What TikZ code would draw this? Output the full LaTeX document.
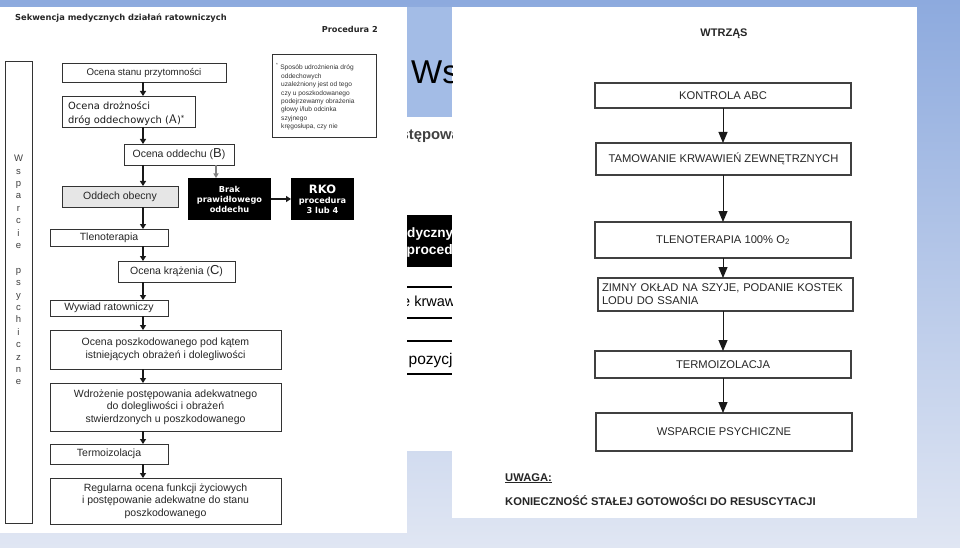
\documentclass[tikz,border=0pt]{standalone}
\usepackage{fontspec}
\setmainfont{Liberation Sans}
\newfontfamily\dejavu{DejaVu Sans}
\usetikzlibrary{arrows.meta}
\definecolor{bgtop}{RGB}{141,170,222}
\definecolor{bgbot}{RGB}{224,230,243}
\definecolor{midblue}{RGB}{163,188,230}
\definecolor{lightgray}{RGB}{230,230,230}
\newcommand\boxat[7]{%
  \node[#6, minimum width={(#4-#2)*1pt}, minimum height={(#5-#3)*1pt}] (#1) at ({(#2+#4)/2},{(#3+#5)/2}) {#7};}
\begin{document}
\begin{tikzpicture}[x=1pt,y=-1pt,
  lbox/.style={draw=black!80, line width=0.9pt, inner sep=0pt, outer sep=0pt, align=center,
    font=\fontsize{10.5}{12.7}\selectfont, text=black!85},
  blkbox/.style={fill=black, inner sep=0pt, outer sep=0pt, align=center, text=white,
    font=\dejavu\bfseries\fontsize{8.2}{10}\selectfont},
  rbox/.style={draw=black!75, line width=1.2pt, inner sep=0pt, outer sep=0pt, align=center,
    font=\fontsize{11.2}{13}\selectfont, text=black!85},
  larr/.style={draw=black!90, line width=1.8pt, -{Triangle[width=6pt,length=5pt]}},
  garr/.style={draw=black!50, line width=1.1pt, -{Triangle[width=5pt,length=4.5pt]}},
  rarr/.style={draw=black!90, line width=1pt, -{Triangle[width=9pt,length=11pt]}}]
\useasboundingbox (0,0) rectangle (960,548);
% background
\shade[top color=bgtop, bottom color=bgbot] (0,0) rectangle (960,548);
% panels
\fill[white] (0,7) rectangle (407,533);
\fill[white] (452,7) rectangle (917,518);
\fill[midblue] (407,7) rectangle (452,117);
\fill[white] (407,117) rectangle (452,451);
% hidden slide fragment
\begin{scope}
  \clip (407,7) rectangle (452,451);
  \node[anchor=base west, inner sep=0pt, font=\fontsize{33}{33}\selectfont] (hws) at (411,84) {Wstrząs};
  \node[anchor=base west, inner sep=0pt, text=black!75, font=\bfseries\fontsize{14.8}{14}\selectfont] (htp) at (400.5,140) {stępowania};
  \fill[black] (407,215) rectangle (452,267);
  \node[anchor=base west, inner sep=0pt, text=white, font=\bfseries\fontsize{13.6}{13}\selectfont] (hd1) at (407,237) {dyczny};
  \node[anchor=base west, inner sep=0pt, text=white, font=\bfseries\fontsize{13.8}{13}\selectfont] (hd2) at (406.5,254) {procedura};
  \draw[line width=1.2pt] (407,287) -- (452,287);
  \draw[line width=1.2pt] (407,318) -- (452,318);
  \draw[line width=1.2pt] (407,341) -- (452,341);
  \draw[line width=1.2pt] (407,374) -- (452,374);
  \node[anchor=base west, inner sep=0pt, font=\fontsize{14.5}{14}\selectfont] (hk) at (402,306) {e krwawień};
  \node[anchor=base west, inner sep=0pt, font=\fontsize{15.5}{15}\selectfont] (hp) at (408.5,364) {pozycja};
\end{scope}
% ---------- left panel ----------
\node[anchor=base west, inner sep=0pt, font=\dejavu\bfseries\fontsize{8.3}{10}\selectfont, text=black!85] (title) at (15,21) {Sekwencja medycznych działań ratowniczych};
\node[anchor=base east, inner sep=0pt, font=\dejavu\bfseries\fontsize{8.2}{10}\selectfont, text=black!85] (proc) at (378,33) {Procedura 2};
\boxat{vb}{5}{61}{32}{523}{lbox}{}
\node[align=center, inner sep=0pt, font=\fontsize{9.5}{12.4}\selectfont, text=black!75] (vbt) at (18.5,270) {W\\s\\p\\a\\r\\c\\i\\e\\[12.4pt]p\\s\\y\\c\\h\\i\\c\\z\\n\\e};
\boxat{n1}{62}{63}{226}{82}{lbox, font=\fontsize{9.7}{12}\selectfont}{Ocena stanu przytomności}
\boxat{n2}{62}{96}{195}{127}{lbox}{}
\node[anchor=north west, align=left, inner sep=0pt, font=\dejavu\fontsize{9.9}{14.5}\selectfont, text=black!90] (n2t) at (68,101) {Ocena drożności\\dróg oddechowych ({\fontsize{12.5}{12}\selectfont\sffamily A})\textsuperscript{*}};
\boxat{note}{272}{54}{376}{137}{lbox}{}
\node[anchor=north west, align=left, inner sep=0pt, font=\fontsize{6.6}{8.4}\selectfont, text=black!80] (notet) at (276,63.5) {\textsuperscript{*} Sposób udrożnienia dróg\\\hspace*{5pt}oddechowych\\\hspace*{5pt}uzależniony jest od tego\\\hspace*{5pt}czy u poszkodowanego\\\hspace*{5pt}podejrzewamy obrażenia\\\hspace*{5pt}głowy i/lub odcinka\\\hspace*{5pt}szyjnego\\\hspace*{5pt}kręgosłupa, czy nie};
\boxat{n3}{124}{144}{234}{165}{lbox}{Ocena oddechu ({\fontsize{13}{13}\selectfont B})}
\boxat{n4}{62}{186}{178}{207}{lbox, fill=lightgray}{Oddech obecny}
\boxat{n5}{188}{178}{271}{220}{blkbox}{Brak\\prawidłowego\\oddechu}
\boxat{n6}{291}{178}{354}{220}{blkbox}{{\fontsize{11.5}{11}\selectfont RKO}\\procedura\\3 lub 4}
\boxat{n7}{50}{229}{168}{246}{lbox}{Tlenoterapia}
\boxat{n8}{118}{261}{235}{282}{lbox}{Ocena krążenia ({\fontsize{13}{13}\selectfont C})}
\boxat{n9}{50}{300}{168}{316}{lbox}{Wywiad ratowniczy}
\boxat{n10}{50}{330}{281}{369}{lbox}{Ocena poszkodowanego pod kątem\\istniejących obrażeń i dolegliwości}
\boxat{n11}{50}{383}{281}{431}{lbox}{Wdrożenie postępowania adekwatnego\\do dolegliwości i obrażeń\\stwierdzonych u poszkodowanego}
\boxat{n12}{50}{444}{168}{464}{lbox}{Termoizolacja}
\boxat{n13}{50}{478}{281}{524}{lbox}{Regularna ocena funkcji życiowych\\i postępowanie adekwatne do stanu\\poszkodowanego}
\coordinate (ax) at (143,0);
\coordinate (gx) at (216,0);
\draw[larr] (n1.south -| ax) -- (n2.north -| ax);
\draw[larr] (n2.south -| ax) -- (n3.north -| ax);
\draw[larr] (n3.south -| ax) -- (n4.north -| ax);
\draw[larr] (n4.south -| ax) -- (n7.north -| ax);
\draw[larr] (n7.south -| ax) -- (n8.north -| ax);
\draw[larr] (n8.south -| ax) -- (n9.north -| ax);
\draw[larr] (n9.south -| ax) -- (n10.north -| ax);
\draw[larr] (n10.south -| ax) -- (n11.north -| ax);
\draw[larr] (n11.south -| ax) -- (n12.north -| ax);
\draw[larr] (n12.south -| ax) -- (n13.north -| ax);
\draw[garr] (n3.south -| gx) -- (n5.north -| gx);
\draw[larr] (n5.east) -- (n6.west);
% ---------- right panel ----------
\node[anchor=base, inner sep=0pt, font=\bfseries\fontsize{11}{13}\selectfont, text=black!85] (rt) at (724,37) {WTRZĄS};
\boxat{r1}{595}{83}{851}{108}{rbox}{KONTROLA ABC}
\boxat{r2}{596}{143}{851}{175}{rbox}{TAMOWANIE KRWAWIEŃ ZEWNĘTRZNYCH}
\boxat{r3}{595}{222}{851}{258}{rbox}{TLENOTERAPIA 100\% O\textsubscript{2}}
\boxat{r4}{598}{278}{853}{311}{rbox, align=left, text width=247pt, inner xsep=4pt}{ZIMNY OKŁAD NA SZYJE, PODANIE KOSTEK\\LODU DO SSANIA}
\boxat{r5}{595}{351}{851}{378}{rbox}{TERMOIZOLACJA}
\boxat{r6}{596}{413}{852}{451}{rbox}{WSPARCIE PSYCHICZNE}
\coordinate (rx) at (723,0);
\draw[rarr] (r1.south -| rx) -- (r2.north -| rx);
\draw[rarr] (r2.south -| rx) -- (r3.north -| rx);
\draw[rarr] (r3.south -| rx) -- (r4.north -| rx);
\draw[rarr] (r4.south -| rx) -- (r5.north -| rx);
\draw[rarr] (r5.south -| rx) -- (r6.north -| rx);
\node[anchor=base west, inner sep=0pt, font=\bfseries\fontsize{11.2}{13}\selectfont, text=black!85] (uw) at (505,481) {\underline{UWAGA:}};
\node[anchor=base west, inner sep=0pt, font=\bfseries\fontsize{11.2}{13}\selectfont, text=black!85] (kon) at (505,505) {KONIECZNOŚĆ STAŁEJ GOTOWOŚCI DO RESUSCYTACJI};
\end{tikzpicture}
\end{document}
